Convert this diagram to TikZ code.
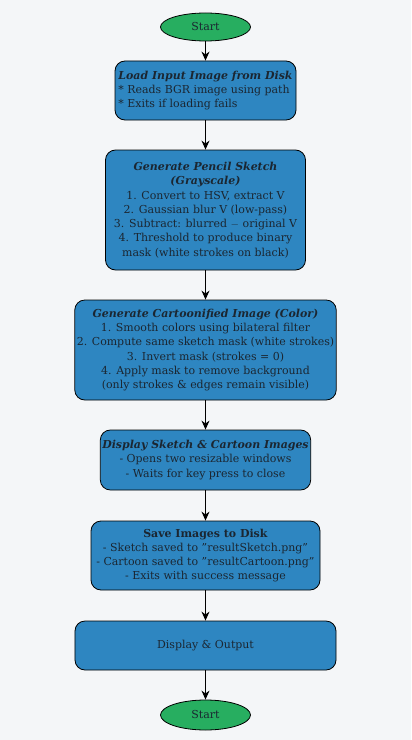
\documentclass[tikz,border=0pt]{standalone}
\usepackage{fontspec}
\setmainfont{DejaVu Serif}
\usetikzlibrary{shapes.geometric,arrows.meta}
\definecolor{pagebg}{HTML}{F4F6F8}
\definecolor{stepblue}{HTML}{2E86C1}
\definecolor{termgreen}{HTML}{27AE60}
\definecolor{inktext}{HTML}{1B2631}
\newcommand{\qq}[1]{\symbol{34}#1\symbol{34}}
\tikzset{
  terminal/.style={ellipse,draw=black,line width=0.8bp,fill=termgreen,inner sep=0pt,
    minimum width=90bp,minimum height=28bp,text=inktext},
  procbox/.style={rectangle,rounded corners=10bp,draw=black,line width=0.8bp,fill=stepblue,
    inner sep=2bp,text=inktext,align=center},
}
\begin{document}
\begin{tikzpicture}[x=1bp,y=-1bp,>={Stealth[length=9bp,width=8bp]},line join=round,
  font=\fontsize{11}{14.3}\selectfont]
  \useasboundingbox[fill=pagebg] (0,0) rectangle (411,740);
  \node[terminal] (start) at (205.5,27) {Start};
  \node[procbox,minimum width=181bp,minimum height=59bp,align=left] (load) at (205.5,90.5)
    {\textbf{\textit{Load Input Image from Disk}}\\* Reads BGR image using path\\* Exits if loading fails};
  \node[procbox,minimum width=200bp,minimum height=120bp] (sketch) at (205.5,210)
    {\textbf{\textit{Generate Pencil Sketch}}\\\textbf{\textit{(Grayscale)}}\\1. Convert to HSV, extract V\\2. Gaussian blur V (low-pass)\\3. Subtract: blurred $-$ original V\\4. Threshold to produce binary\\mask (white strokes on black)};
  \node[procbox,minimum width=261bp,minimum height=100bp] (cartoon) at (205.5,350)
    {\textbf{\textit{Generate Cartoonified Image (Color)}}\\1. Smooth colors using bilateral filter\\2. Compute same sketch mask (white strokes)\\3. Invert mask (strokes = 0)\\4. Apply mask to remove background\\(only strokes \& edges remain visible)};
  \node[procbox,minimum width=210bp,minimum height=60bp] (show) at (205.5,460)
    {\textbf{\textit{Display Sketch \& Cartoon Images}}\\- Opens two resizable windows\\- Waits for key press to close};
  \node[procbox,minimum width=229bp,minimum height=69bp] (save) at (205.5,555.5)
    {\textbf{Save Images to Disk}\\- Sketch saved to \qq{resultSketch.png}\\- Cartoon saved to \qq{resultCartoon.png}\\- Exits with success message};
  \node[procbox,minimum width=261bp,minimum height=49bp] (output) at (205.5,645.5) {Display \& Output};
  \node[terminal,minimum height=30bp] (stop) at (205.5,715) {Start};
  \foreach \a/\b in {start/load,load/sketch,sketch/cartoon,cartoon/show,show/save,save/output,output/stop}
    \draw[->,line width=1.2bp] (\a) -- (\b);
\end{tikzpicture}
\end{document}
